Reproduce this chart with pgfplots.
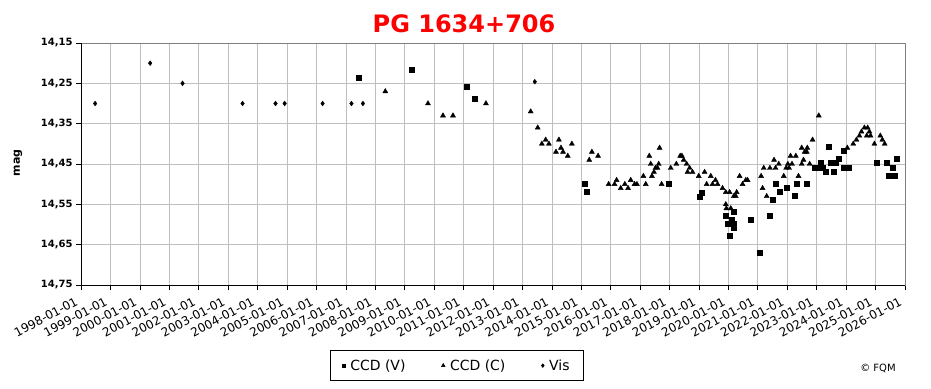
\documentclass[border=0pt]{standalone}
\usepackage{fontspec}
\setmainfont{DejaVu Sans}
\usepackage{pgfplots}
\pgfplotsset{compat=1.18}
\begin{document}
\begin{tikzpicture}[x=1pt,y=1pt]
\useasboundingbox (0,0) rectangle (931,388);
\begin{axis}[
  scale only axis, width=824pt, height=242pt,
  at={(81pt,103pt)}, anchor=south west,
  xmin=1998, xmax=2026, ymin=14.15, ymax=14.75, y dir=reverse,
  xtick={1998,...,2026},
  xticklabels={1998-01-01,1999-01-01,2000-01-01,2001-01-01,2002-01-01,2003-01-01,2004-01-01,2005-01-01,2006-01-01,2007-01-01,2008-01-01,2009-01-01,2010-01-01,2011-01-01,2012-01-01,2013-01-01,2014-01-01,2015-01-01,2016-01-01,2017-01-01,2018-01-01,2019-01-01,2020-01-01,2021-01-01,2022-01-01,2023-01-01,2024-01-01,2025-01-01,2026-01-01},
  ytick={14.15,14.25,14.35,14.45,14.55,14.65,14.75},
  yticklabel style={font=\bfseries\fontsize{10}{12}\selectfont, /pgf/number format/.cd, fixed, fixed zerofill, precision=2, use comma, assume math mode=true},
  xticklabel style={font=\fontsize{12}{14}\selectfont, xshift=-6pt, yshift=-5pt, rotate=28, anchor=north east, inner sep=1pt},
  grid=major, major grid style={gray!50, line width=0.6pt},
  axis line style={gray, line width=0.6pt},
  tick align=outside, major tick length=5pt,
  tick style={black, line width=0.6pt},
  xtick pos=bottom, ytick pos=left,
  legend style={at={(axis description cs:0.456,-0.333)}, anchor=center, draw=black, line width=0.6pt, legend columns=3, font=\fontsize{14}{16}\selectfont, inner xsep=12pt, inner ysep=7pt, /tikz/every odd column/.append style={column sep=3pt}, /tikz/every even column/.append style={column sep=34pt}},
  legend cell align=left,
]
\draw[black, line width=0.7pt] (axis description cs:0,0) -- (axis description cs:0,1);
\draw[black, line width=0.7pt] (axis description cs:0,0) -- (axis description cs:1,0);
% CCD (V)
\addplot[only marks, mark=square*, mark size=2.5pt, black, legend image post style={mark size=1.7pt}] coordinates {
(2007.44,14.237) (2009.24,14.217) (2011.11,14.259) (2011.38,14.289)
(2015.10,14.499) (2015.17,14.519) (2017.96,14.499) (2019.02,14.530) (2019.09,14.520)
(2019.89,14.578) (2019.96,14.598) (2020.04,14.628) (2020.11,14.588) (2020.17,14.568)
(2020.17,14.598) (2020.17,14.608) (2020.76,14.588) (2021.06,14.670) (2021.39,14.578)
(2021.49,14.539) (2021.60,14.499) (2021.74,14.519) (2021.98,14.509) (2022.25,14.529)
(2022.32,14.499) (2022.66,14.499) (2022.93,14.459) (2023.05,14.459) (2023.12,14.447)
(2023.19,14.459) (2023.29,14.469) (2023.39,14.407) (2023.46,14.447) (2023.56,14.469)
(2023.66,14.447) (2023.75,14.437) (2023.90,14.417) (2023.90,14.459) (2024.07,14.459)
(2025.03,14.447) (2025.38,14.447) (2025.45,14.479) (2025.54,14.479) (2025.57,14.459)
(2025.64,14.479) (2025.71,14.437)
};
\addlegendentry{CCD (V)}
% CCD (C)
\addplot[only marks, mark=triangle*, mark size=2.9pt, black, legend image post style={mark size=2pt}] coordinates {
(2008.34,14.270) (2009.79,14.300) (2010.30,14.330) (2010.64,14.330) (2011.76,14.300)
(2013.28,14.320) (2013.52,14.360) (2013.66,14.400) (2013.79,14.390) (2013.90,14.400)
(2014.14,14.420) (2014.24,14.390) (2014.31,14.410) (2014.38,14.420) (2014.54,14.430)
(2014.68,14.400) (2015.27,14.440) (2015.36,14.420) (2015.57,14.430)
(2015.93,14.500) (2016.13,14.500) (2016.20,14.490) (2016.34,14.510) (2016.48,14.500)
(2016.59,14.510) (2016.68,14.490) (2016.81,14.500) (2016.89,14.500) (2017.11,14.480)
(2017.19,14.500) (2017.31,14.430) (2017.36,14.450) (2017.40,14.480) (2017.47,14.470)
(2017.52,14.460) (2017.59,14.460) (2017.63,14.450) (2017.66,14.410) (2017.73,14.500)
(2018.04,14.460) (2018.23,14.450) (2018.36,14.430) (2018.42,14.430) (2018.48,14.440)
(2018.58,14.450) (2018.61,14.470) (2018.68,14.460) (2018.78,14.470) (2018.99,14.480)
(2019.19,14.470) (2019.26,14.500) (2019.40,14.480) (2019.46,14.500) (2019.56,14.490)
(2019.63,14.500) (2019.80,14.510) (2019.91,14.520) (2019.91,14.550) (2019.93,14.560)
(2020.04,14.520) (2020.08,14.560) (2020.18,14.530) (2020.25,14.530) (2020.28,14.520)
(2020.38,14.480) (2020.48,14.500) (2020.59,14.490) (2020.65,14.490)
(2021.11,14.480) (2021.16,14.510) (2021.20,14.460) (2021.30,14.530) (2021.41,14.460)
(2021.55,14.440) (2021.60,14.460) (2021.71,14.450) (2021.88,14.480) (2021.96,14.460)
(2022.02,14.450) (2022.06,14.460) (2022.11,14.430) (2022.16,14.450) (2022.29,14.430)
(2022.38,14.480) (2022.49,14.410) (2022.49,14.450) (2022.55,14.440) (2022.59,14.420)
(2022.66,14.420) (2022.68,14.410) (2022.76,14.450) (2022.86,14.390) (2023.07,14.330)
(2024.04,14.410) (2024.24,14.400) (2024.35,14.390) (2024.45,14.380) (2024.52,14.370)
(2024.62,14.360) (2024.70,14.380) (2024.73,14.360) (2024.79,14.370) (2024.83,14.380)
(2024.96,14.400) (2025.16,14.380) (2025.23,14.390) (2025.31,14.400)
};
\addlegendentry{CCD (C)}
% Vis
\addplot[only marks, mark=diamond*, mark size=2.4pt, black, legend image post style={mark size=1.8pt}] coordinates {
(1998.48,14.300) (2000.35,14.200) (2001.45,14.250) (2003.49,14.300) (2004.61,14.300)
(2004.92,14.300) (2006.21,14.300) (2007.19,14.300) (2007.58,14.300) (2013.42,14.246)
};
\addlegendentry{Vis}
\end{axis}
\node[font=\bfseries\fontsize{24}{28}\selectfont, text=red] at (464,364) {PG 1634+706};
\node[font=\bfseries\fontsize{11}{13}\selectfont, rotate=90] at (18,225) {mag};
\node[font=\fontsize{10}{12}\selectfont] at (878,20) {© FQM};
\end{tikzpicture}
\end{document}
